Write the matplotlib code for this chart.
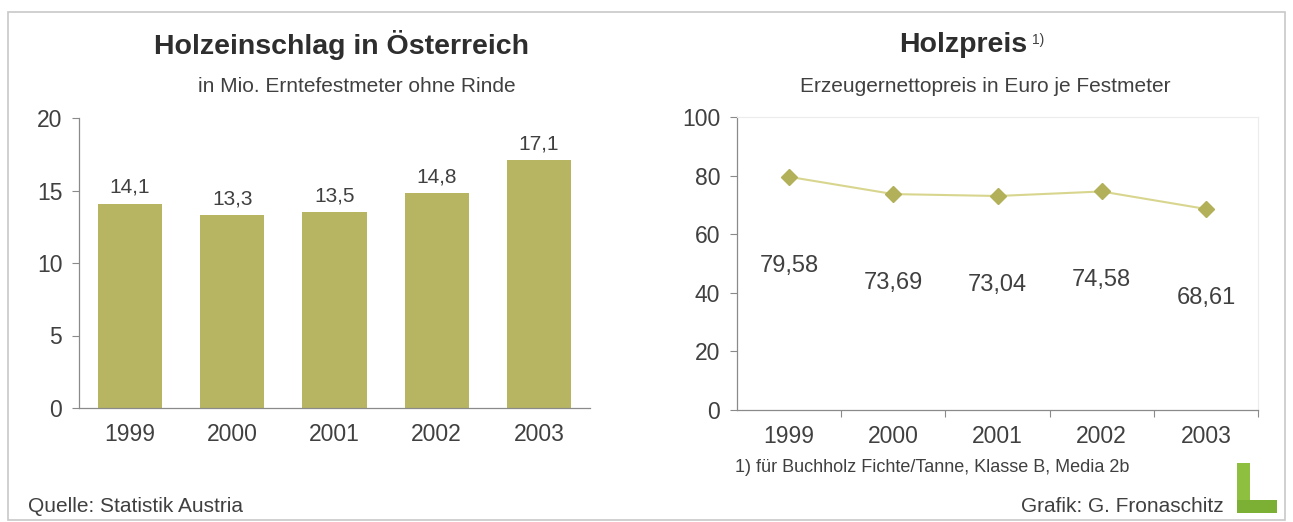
import matplotlib.pyplot as plt
from matplotlib.patches import Rectangle

plt.rcParams['font.family'] = ['Liberation Sans', 'DejaVu Sans']

# ---------------------------
# Data
# ---------------------------
years = ['1999', '2000', '2001', '2002', '2003']
einschlag = [14.1, 13.3, 13.5, 14.8, 17.1]      # Mio. Erntefestmeter
holzpreis = [79.58, 73.69, 73.04, 74.58, 68.61]  # Euro je Festmeter

einschlag_labels = ['14,1', '13,3', '13,5', '14,8', '17,1']
preis_labels = ['79,58', '73,69', '73,04', '74,58', '68,61']

text_col = '#404040'
bar_col = '#b8b562'
line_col = '#d8d68e'
marker_col = '#b2b15a'
axis_col = '#8a8a8a'

W, H = 1293, 522
fig = plt.figure(figsize=(W / 100, H / 100), dpi=100)
fig.patch.set_facecolor('white')


def fx(px):
    return px / W


def fy(py):
    return 1 - py / H


# outer frame
fig.add_artist(Rectangle((fx(8), fy(520)), fx(1285) - fx(8), fy(12) - fy(520),
                         transform=fig.transFigure, fill=False,
                         edgecolor='#c8c8c8', lw=1.2))

# ---------------------------
# Left chart: bars
# ---------------------------
ax1 = fig.add_axes([fx(79), fy(408), fx(590) - fx(79), fy(118) - fy(408)])
x = range(len(years))
ax1.bar(x, einschlag, width=0.63, color=bar_col)
for i, v in enumerate(einschlag):
    ax1.annotate(einschlag_labels[i], (i, v), xytext=(0, 5), textcoords='offset points',
                 ha='center', va='bottom', fontsize=15, color=text_col)
ax1.set_xlim(-0.5, 4.5)
ax1.set_ylim(0, 20)
ax1.set_yticks([0, 5, 10, 15, 20])
ax1.set_xticks(list(x))
ax1.set_xticklabels(years)
ax1.tick_params(axis='x', length=0, pad=11, labelsize=16.5, labelcolor=text_col)
ax1.tick_params(axis='y', length=5, width=0.8, color=axis_col, pad=7, labelsize=16.5,
                labelcolor=text_col)
for s in ['top', 'right']:
    ax1.spines[s].set_visible(False)
for s in ['left', 'bottom']:
    ax1.spines[s].set_color(axis_col)
    ax1.spines[s].set_linewidth(0.9)

fig.text(fx(342), fy(45), 'Holzeinschlag in Österreich', ha='center', va='center',
         fontsize=20.5, fontweight='bold', color='#2e2e2e')
fig.text(fx(357), fy(86), 'in Mio. Erntefestmeter ohne Rinde', ha='center', va='center',
         fontsize=15, color=text_col)
fig.text(fx(28), fy(507), 'Quelle: Statistik Austria', ha='left', va='center',
         fontsize=15, color=text_col)

# ---------------------------
# Right chart: line
# ---------------------------
ax2 = fig.add_axes([fx(737), fy(410), fx(1258) - fx(737), fy(117) - fy(410)])
ax2.plot(list(x), holzpreis, color=line_col, lw=1.5, zorder=2)
ax2.plot(list(x), holzpreis, linestyle='none', marker='D', markersize=8,
         color=marker_col, zorder=3)
for i, v in enumerate(holzpreis):
    ax2.annotate(preis_labels[i], (i, v), xytext=(0, -64), textcoords='offset points',
                 ha='center', va='center', fontsize=17, color=text_col)
ax2.set_xlim(-0.5, 4.5)
ax2.set_ylim(0, 100)
ax2.set_yticks([0, 20, 40, 60, 80, 100])
ax2.set_xticks([0.5, 1.5, 2.5, 3.5, 4.5])
ax2.set_xticklabels([])
ax2.set_xticks(list(x), minor=True)
ax2.set_xticklabels(years, minor=True)
ax2.tick_params(axis='x', which='major', length=5, width=0.8, color=axis_col)
ax2.tick_params(axis='x', which='minor', length=0, pad=11, labelsize=16.5,
                labelcolor=text_col)
ax2.tick_params(axis='y', length=5, width=0.8, color=axis_col, pad=7, labelsize=16.5,
                labelcolor=text_col)
for s in ['top', 'right']:
    ax2.spines[s].set_color('#ececec')
for s in ['left', 'bottom']:
    ax2.spines[s].set_color(axis_col)
    ax2.spines[s].set_linewidth(0.9)

fig.text(fx(963), fy(45), 'Holzpreis', ha='center', va='center',
         fontsize=20.5, fontweight='bold', color='#2e2e2e')
fig.text(fx(1032), fy(40), '1)', ha='left', va='center', fontsize=10, color=text_col)
fig.text(fx(985), fy(86), 'Erzeugernettopreis in Euro je Festmeter', ha='center',
         va='center', fontsize=15, color=text_col)
fig.text(fx(735), fy(467), '1) für Buchholz Fichte/Tanne, Klasse B, Media 2b',
         ha='left', va='center', fontsize=13, color=text_col)
fig.text(fx(1224), fy(507), 'Grafik: G. Fronaschitz', ha='right', va='center',
         fontsize=15, color=text_col)

# small green "L" logo
fig.add_artist(Rectangle((fx(1237), fy(513)), fx(13), fy(463) - fy(513),
                         transform=fig.transFigure, color='#8fbf3f', lw=0))
fig.add_artist(Rectangle((fx(1237), fy(513)), fx(40), fy(500) - fy(513),
                         transform=fig.transFigure, color='#7cb034', lw=0))

fig.savefig('out.png', dpi=100)
